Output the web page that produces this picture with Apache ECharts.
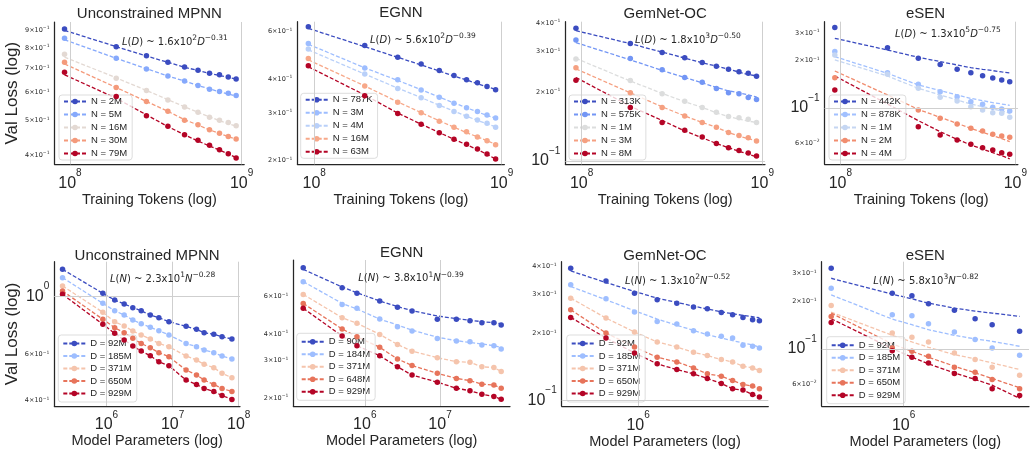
<!DOCTYPE html>
<html>
<head>
<meta charset="utf-8">
<title>Scaling laws</title>
<script src="https://cdn.jsdelivr.net/npm/echarts@6/dist/echarts.min.js"></script>
<style>html,body{margin:0;padding:0;background:#fff;}</style>
</head>
<body>
<div id="main" style="width:1030px;height:450px;"></div>
<script>
// ---- top row: val loss vs training tokens ----
var tokens = [93e6, 186e6, 279e6, 372e6, 465e6, 557e6, 650e6, 743e6, 836e6, 929e6];

var mpnnTopNames = ['N = 2M', 'N = 5M', 'N = 16M', 'N = 30M', 'N = 79M'];
var mpnnTopPts = [
  [0.906, 0.808, 0.761, 0.730, 0.708, 0.693, 0.680, 0.673, 0.663, 0.655],
  [0.853, 0.749, 0.699, 0.668, 0.646, 0.628, 0.613, 0.604, 0.597, 0.588],
  [0.769, 0.658, 0.608, 0.572, 0.546, 0.528, 0.511, 0.501, 0.494, 0.484],
  [0.730, 0.620, 0.566, 0.531, 0.501, 0.487, 0.471, 0.461, 0.451, 0.444],
  [0.684, 0.585, 0.516, 0.482, 0.456, 0.440, 0.426, 0.414, 0.403, 0.392]
];
var mpnnTopFit = [
  [0.898, 0.808, 0.760, 0.730, 0.707, 0.692, 0.679, 0.670, 0.662, 0.655],
  [0.845, 0.749, 0.700, 0.668, 0.646, 0.628, 0.614, 0.603, 0.594, 0.586],
  [0.755, 0.660, 0.608, 0.573, 0.547, 0.528, 0.512, 0.500, 0.490, 0.482],
  [0.722, 0.620, 0.566, 0.531, 0.503, 0.486, 0.471, 0.460, 0.451, 0.443],
  [0.673, 0.578, 0.519, 0.481, 0.456, 0.438, 0.424, 0.413, 0.403, 0.393]
];

var egnnTopNames = ['N = 787K', 'N = 3M', 'N = 4M', 'N = 16M', 'N = 63M'];
var egnnTopPts = [
  [0.626, 0.533, 0.482, 0.456, 0.431, 0.413, 0.398, 0.388, 0.376, 0.366],
  [0.542, 0.440, 0.398, 0.365, 0.343, 0.326, 0.314, 0.304, 0.295, 0.288],
  [0.518, 0.418, 0.370, 0.342, 0.320, 0.304, 0.292, 0.283, 0.275, 0.266],
  [0.477, 0.378, 0.329, 0.301, 0.280, 0.266, 0.256, 0.245, 0.237, 0.229],
  [0.449, 0.348, 0.299, 0.273, 0.254, 0.240, 0.230, 0.221, 0.212, 0.203]
];
var egnnTopFit = [
  [0.617, 0.528, 0.482, 0.452, 0.429, 0.411, 0.398, 0.385, 0.375, 0.367],
  [0.539, 0.441, 0.396, 0.366, 0.344, 0.327, 0.314, 0.303, 0.294, 0.287],
  [0.514, 0.418, 0.371, 0.342, 0.321, 0.305, 0.292, 0.282, 0.274, 0.267],
  [0.472, 0.378, 0.330, 0.301, 0.281, 0.266, 0.254, 0.245, 0.237, 0.230],
  [0.445, 0.350, 0.300, 0.273, 0.254, 0.240, 0.229, 0.220, 0.211, 0.203]
];

var gemTopNames = ['N = 313K', 'N = 575K', 'N = 1M', 'N = 3M', 'N = 8M'];
var gemTopPts = [
  [0.379, 0.325, 0.297, 0.282, 0.269, 0.259, 0.251, 0.245, 0.241, 0.234],
  [0.337, 0.280, 0.250, 0.231, 0.220, 0.207, 0.198, 0.196, 0.189, 0.185],
  [0.278, 0.224, 0.196, 0.182, 0.171, 0.163, 0.156, 0.154, 0.152, 0.147],
  [0.255, 0.198, 0.171, 0.157, 0.147, 0.140, 0.133, 0.129, 0.126, 0.122],
  [0.225, 0.171, 0.147, 0.136, 0.127, 0.119, 0.114, 0.111, 0.108, 0.105]
];
var gemTopFit = [
  [0.370, 0.325, 0.298, 0.281, 0.268, 0.259, 0.251, 0.244, 0.238, 0.235],
  [0.328, 0.276, 0.248, 0.231, 0.219, 0.209, 0.202, 0.198, 0.194, 0.190],
  [0.280, 0.223, 0.197, 0.181, 0.171, 0.162, 0.156, 0.152, 0.149, 0.147],
  [0.252, 0.198, 0.172, 0.157, 0.147, 0.140, 0.133, 0.128, 0.125, 0.122],
  [0.231, 0.173, 0.150, 0.135, 0.126, 0.119, 0.114, 0.110, 0.107, 0.104]
];

var esenTopNames = ['N = 442K', 'N = 878K', 'N = 1M', 'N = 2M', 'N = 4M'];
var esenTopPts = [
  [0.324, 0.2415, 0.2066, 0.189, 0.176, 0.1676, 0.1604, 0.155, 0.1506, 0.147],
  [0.228, 0.1676, 0.1413, 0.127, 0.118, 0.1097, 0.1055, 0.101, 0.0986, 0.0957],
  [0.217, 0.1636, 0.1333, 0.1168, 0.1108, 0.102, 0.0971, 0.0934, 0.0925, 0.0873],
  [0.1558, null, 0.0971, 0.086, 0.0791, 0.0743, 0.0714, 0.068, 0.0664, 0.0651],
  [0.130, null, 0.0761, 0.0674, 0.0626, 0.0588, 0.056, 0.0541, 0.052, 0.0508]
];
var esenTopFit = [
  [0.277, 0.2334, 0.2098, 0.197, 0.1875, 0.1803, 0.176, 0.1726, 0.1693, 0.1668],
  [0.2118, 0.166, 0.140, 0.1288, 0.121, 0.1151, 0.1113, 0.1081, 0.106, 0.104],
  [0.2017, 0.1597, 0.1333, 0.121, 0.1124, 0.106, 0.102, 0.0986, 0.0957, 0.0925],
  [0.1717, 0.121, 0.098, 0.0872, 0.0799, 0.0743, 0.070, 0.0667, 0.0639, 0.0611],
  [0.1597, 0.106, 0.0831, 0.0707, 0.0632, 0.0582, 0.0549, 0.052, 0.0498, 0.0475]
];

// ---- bottom row: val loss vs model parameters ----
var mpnnParams = [2.16e5, 8.8e5, 1.33e6, 1.85e6, 2.5e6, 3.35e6, 4.6e6, 6.2e6, 8.8e6, 1.6e7, 2.3e7, 3.0e7, 4.2e7, 5.6e7, 7.9e7];
var mpnnBotNames = ['D = 92M', 'D = 185M', 'D = 371M', 'D = 650M', 'D = 929M'];
var mpnnBotPts = [
  [1.267, 1.026, 0.968, 0.935, 0.905, 0.881, 0.848, 0.829, 0.800, 0.768, 0.748, 0.726, 0.716, 0.701, 0.687],
  [1.178, 0.940, 0.881, 0.848, 0.812, 0.786, 0.761, 0.739, 0.712, 0.661, 0.642, 0.624, 0.609, 0.592, 0.576],
  [1.095, 0.869, 0.800, 0.770, 0.737, 0.712, 0.687, 0.661, 0.642, 0.592, 0.571, 0.550, 0.534, 0.508, 0.489],
  [1.048, 0.817, 0.759, 0.726, 0.691, 0.661, 0.636, 0.609, 0.588, 0.523, 0.501, 0.479, 0.461, 0.445, 0.433],
  [1.017, 0.782, 0.722, 0.681, 0.646, 0.618, 0.593, 0.563, 0.543, 0.479, 0.461, 0.445, 0.433, 0.418, 0.404]
];
var mpnnBotFit = mpnnBotPts;

var egnnParams = [1.52e5, 5.0e5, 7.87e5, 1.58e6, 2.72e6, 4.25e6, 9.2e6, 1.65e7, 2.5e7, 3.6e7, 5.2e7, 6.5e7];
var egnnBotNames = ['D = 90M', 'D = 184M', 'D = 371M', 'D = 648M', 'D = 929M'];
var egnnBotPts = [
  [0.821, 0.661, 0.622, 0.573, 0.535, 0.514, 0.470, 0.470, 0.463, 0.453, 0.453, 0.442],
  [0.706, 0.552, 0.529, 0.471, 0.434, 0.414, 0.382, 0.372, 0.369, 0.356, 0.353, 0.341],
  [0.615, 0.478, 0.450, 0.399, 0.358, 0.333, 0.310, 0.297, 0.295, 0.281, 0.279, 0.267],
  [0.558, 0.423, 0.389, 0.347, 0.306, 0.285, 0.262, 0.248, 0.242, 0.233, 0.231, 0.223],
  [0.529, 0.392, 0.353, 0.317, 0.281, 0.257, 0.238, 0.223, 0.217, 0.209, 0.204, 0.198]
];
var egnnBotFit = [
  [0.806, 0.666, 0.626, 0.573, 0.539, 0.516, 0.487, 0.473, 0.465, 0.458, 0.453, 0.448],
  [0.706, 0.558, 0.525, 0.471, 0.442, 0.418, 0.387, 0.373, 0.366, 0.360, 0.353, 0.346],
  egnnBotPts[2], egnnBotPts[3], egnnBotPts[4]
];

var gemParams = [3.13e5, 5.75e5, 9.4e5, 1.39e6, 1.95e6, 2.6e6, 3.3e6, 4.2e6, 5.1e6, 6.1e6, 7.2e6, 8.1e6];
var gemBotNames = ['D = 92M', 'D = 185M', 'D = 371M', 'D = 650M', 'D = 929M'];
var gemBotPts = [
  [0.3935, 0.345, 0.304, 0.2838, 0.274, 0.263, 0.2585, 0.249, 0.243, 0.2364, 0.2307, 0.2284],
  [0.3312, 0.2867, 0.2498, 0.2268, 0.2207, 0.206, 0.199, 0.1943, 0.191, 0.177, 0.1752, 0.1722],
  [0.2886, 0.2348, 0.2032, 0.1833, 0.174, 0.1647, 0.1591, 0.1527, 0.1491, 0.1426, 0.1401, 0.1363],
  [0.2559, 0.2011, 0.174, 0.1564, 0.1491, 0.1401, 0.1317, 0.1285, 0.1229, 0.118, 0.116, 0.1128],
  [0.2364, 0.191, 0.1636, 0.1461, 0.1377, 0.1317, 0.1255, 0.1192, 0.1128, 0.1113, 0.1064, 0.1035]
];
var gemBotFit = [
  [0.3827, 0.3393, 0.3093, 0.2886, 0.276, 0.2658, 0.2576, 0.2506, 0.2455, 0.2413, 0.238, 0.2356],
  [0.3256, 0.2838, 0.2532, 0.2324, 0.2178, 0.2067, 0.1976, 0.191, 0.1858, 0.1814, 0.1777, 0.174],
  gemBotPts[2], gemBotPts[3], gemBotPts[4]
];

var esenParams = [4.36e5, 8.78e5, 1.1e6, 1.33e6, 1.79e6, 2.27e6, 2.76e6, 3.78e6];
var esenBotNames = ['D = 92M', 'D = 185M', 'D = 371M', 'D = 650M', 'D = 929M'];
var esenBotPts = [
  [0.324, 0.2254, 0.2169, 0.1931, 0.1761, 0.1553, 0.1423, 0.1292],
  [0.2424, 0.1646, 0.1622, 0.1444, 0.128, 0.1145, 0.1014, 0.0912],
  [0.1885, 0.1261, 0.1184, 0.1107, 0.0943, 0.0856, 0.0766, 0.0682],
  [0.1606, 0.1014, 0.0966, 0.0898, 0.0766, 0.0712, 0.064, 0.0559],
  [0.1472, 0.0975, 0.0886, 0.0815, 0.0698, 0.065, 0.0559, 0.0507]
];
var esenBotFit = [
  [0.2804, 0.2222, 0.2077, 0.195, 0.1813, 0.1736, 0.1686, 0.1606],
  [0.2201, 0.1545, 0.1423, 0.1323, 0.1219, 0.1156, 0.1117, 0.1039],
  [0.1711, 0.1219, 0.1107, 0.1024, 0.092, 0.0864, 0.0815, 0.074],
  [0.1686, 0.1075, 0.0966, 0.0886, 0.0777, 0.0705, 0.065, 0.0567],
  [0.1553, 0.1004, 0.0886, 0.0804, 0.0705, 0.064, 0.0589, 0.0486]
];

// fitted power laws shown in each panel: [coefficient, power of ten, exponent]
var topLaws = [['1.6', '2', '−0.31'], ['5.6', '2', '−0.39'], ['1.8', '3', '−0.50'], ['1.3', '5', '−0.75']];
var botLaws = [['2.3', '1', '−0.28'], ['3.8', '1', '−0.39'], ['1.3', '2', '−0.52'], ['5.8', '3', '−0.82']];

var topTicksY = [[0.4, 0.5, 0.6, 0.7, 0.8, 0.9], [0.2, 0.3, 0.4, 0.6], [0.1, 0.2, 0.3, 0.4], [0.06, 0.1, 0.2, 0.3]];
var botTicksY = [[0.4, 0.6, 1], [0.2, 0.3, 0.4, 0.6], [0.1, 0.2, 0.3, 0.4], [0.06, 0.1, 0.2, 0.3]];

var FONT = '"Liberation Sans", Arial, "DejaVu Sans", sans-serif';
var MATH = '"DejaVu Sans", sans-serif';
var INK = '#262626';

var warmTop = [
  ['#3b4cc0', '#86a9fc', '#e3d9d3', '#f49a7b', '#b40426'],
  ['#3b4cc0', '#9dbdff', '#b9d0f9', '#f7a889', '#b40426'],
  ['#3b4cc0', '#7396f5', '#dcdddd', '#f5a081', '#b40426'],
  ['#3b4cc0', '#a1c0ff', '#c5d6f2', '#f18d6f', '#b40426']
];
var warmBot = ['#3b4cc0', '#9ebeff', '#f5c4ac', '#e7745b', '#b40426'];

var panels = [
  {title: 'Unconstrained MPNN', xs: tokens, names: mpnnTopNames, pts: mpnnTopPts, fit: mpnnTopFit, colors: warmTop[0],
   grid: {left: 54.5, top: 22, width: 189.7, height: 142.3}, xr: [8.13e7, 1.035e9], yr: [0.3766, 0.948],
   xt: [1e8, 1e9], yt: topTicksY[0], leg: [59, 95], note: [122, 42.5], law: topLaws[0], v: 'D', ty: 13.5},
  {title: 'EGNN', xs: tokens, names: egnnTopNames, pts: egnnTopPts, fit: egnnTopFit, colors: warmTop[1],
   grid: {left: 297.4, top: 21.7, width: 207, height: 142.6}, xr: [8.13e7, 1.035e9], yr: [0.194, 0.653],
   xt: [1e8, 1e9], yt: topTicksY[1], leg: [300.7, 93.3], note: [370, 40.3], law: topLaws[1], v: 'D', ty: 13},
  {title: 'GemNet-OC', xs: tokens, names: gemTopNames, pts: gemTopPts, fit: gemTopFit, colors: warmTop[2],
   grid: {left: 565.4, top: 21.7, width: 199.6, height: 142.6}, xr: [8.13e7, 1.035e9], yr: [0.0965, 0.405],
   xt: [1e8, 1e9], yt: topTicksY[2], leg: [569, 95], note: [635, 40], law: topLaws[2], v: 'D', ty: 13.5},
  {title: 'eSEN', xs: tokens, names: esenTopNames, pts: esenTopPts, fit: esenTopFit, colors: warmTop[3],
   grid: {left: 824.6, top: 21.7, width: 201.9, height: 142.6}, xr: [8.13e7, 1.035e9], yr: [0.0439, 0.353],
   xt: [1e8, 1e9], yt: topTicksY[3], leg: [829, 95], note: [895, 34.3], law: topLaws[3], v: 'D', ty: 13.5},
  {title: 'Unconstrained MPNN', xs: mpnnParams, names: mpnnBotNames, pts: mpnnBotPts, fit: mpnnBotFit, colors: warmBot,
   grid: {left: 54.3, top: 261.7, width: 185.7, height: 144.3}, xr: [1.622e5, 1.047e8], yr: [0.3814, 1.355],
   xt: [1e6, 1e7, 1e8], yt: botTicksY[0], leg: [58.3, 335], note: [110, 279.3], law: botLaws[0], v: 'N', ty: 255.5},
  {title: 'EGNN', xs: egnnParams, names: egnnBotNames, pts: egnnBotPts, fit: egnnBotFit, colors: warmBot,
   grid: {left: 293.3, top: 260, width: 216.7, height: 146}, xr: [1.122e5, 8.51e7], yr: [0.184, 0.892],
   xt: [1e6, 1e7], yt: botTicksY[1], leg: [296.7, 333.3], note: [358.3, 278.7], law: botLaws[1], v: 'N', ty: 252.5},
  {title: 'GemNet-OC', xs: gemParams, names: gemBotNames, pts: gemBotPts, fit: gemBotFit, colors: warmBot,
   grid: {left: 561.7, top: 261.7, width: 206.6, height: 145}, xr: [2.68e5, 9.44e6], yr: [0.0943, 0.421],
   xt: [1e6], yt: botTicksY[2], leg: [566.7, 335], note: [625, 281], law: botLaws[2], v: 'N', ty: 255.5},
  {title: 'eSEN', xs: esenParams, names: esenBotNames, pts: esenBotPts, fit: esenBotFit, colors: warmBot,
   grid: {left: 821.7, top: 261.7, width: 207.3, height: 145}, xr: [3.91e5, 4.21e6], yr: [0.0434, 0.357],
   xt: [1e6], yt: botTicksY[3], leg: [826.7, 336.7], note: [873.3, 281], law: botLaws[3], v: 'N', ty: 255.5}
];

function supText(e) { return String(e).replace('-', '−'); }
function isPow10(v) {
  var e = Math.round(Math.log10(v));
  return Math.abs(v / Math.pow(10, e) - 1) < 1e-6;
}
function logLabel(v) {
  if (isPow10(v)) return '{b|10}{s|' + supText(Math.round(Math.log10(v))) + '}';
  var e = Math.floor(Math.log10(v) + 1e-9);
  var m = Math.round(v / Math.pow(10, e));
  return '{m|' + m + '×10}{ms|' + supText(e) + '}';
}
var labelRich = {
  b: {fontSize: 16, lineHeight: 30, fontFamily: FONT, color: INK},
  s: {fontSize: 10, lineHeight: 12, verticalAlign: 'top', fontFamily: FONT, color: INK},
  m: {fontSize: 6.5, lineHeight: 9, fontFamily: MATH, color: INK},
  ms: {fontSize: 4.5, lineHeight: 5, verticalAlign: 'top', fontFamily: MATH, color: INK}
};

var grids = [], xAxes = [], yAxes = [], series = [], legends = [], titles = [];

panels.forEach(function (p, k) {
  var bottom = k >= 4;
  grids.push(p.grid);
  xAxes.push({
    type: 'log', gridIndex: k, min: p.xr[0], max: p.xr[1],
    axisLine: {show: true, onZero: false, lineStyle: {color: INK, width: 1.25}},
    axisTick: {show: false}, splitLine: {show: false},
    axisLabel: {customValues: p.xt, formatter: logLabel, rich: labelRich, margin: 4, color: INK},
    name: bottom ? 'Model Parameters (log)' : 'Training Tokens (log)',
    nameLocation: 'middle', nameGap: 26.5,
    nameTextStyle: {fontSize: 14.5, color: INK, fontFamily: FONT}
  });
  yAxes.push({
    type: 'log', gridIndex: k, min: p.yr[0], max: p.yr[1],
    axisLine: {show: true, onZero: false, lineStyle: {color: INK, width: 1.25}},
    axisTick: {show: false}, splitLine: {show: false},
    axisLabel: {customValues: p.yt, formatter: logLabel, rich: labelRich, margin: 5, color: INK},
    name: (k % 4 === 0) ? 'Val Loss (log)' : '',
    nameLocation: 'middle', nameGap: 21.5, nameRotate: 90,
    nameTextStyle: {fontSize: 17, color: INK, fontFamily: FONT}
  });

  // gridlines at the decades only
  var marks = [];
  p.xt.forEach(function (v) { marks.push({xAxis: v}); });
  p.yt.forEach(function (v) { if (isPow10(v)) marks.push({yAxis: v}); });
  series.push({
    type: 'line', xAxisIndex: k, yAxisIndex: k, data: [], silent: true, z: 1,
    markLine: {silent: true, symbol: ['none', 'none'], label: {show: false}, animation: false,
      lineStyle: {color: '#cfcfcf', type: 'solid', width: 1}, emphasis: {disabled: true}, data: marks}
  });

  var ids = [];
  p.names.forEach(function (nm, j) {
    var id = k + '|' + nm;
    var c = p.colors[j];
    ids.push(id);
    series.push({
      name: id, type: 'line', xAxisIndex: k, yAxisIndex: k,
      data: p.xs.map(function (x, i) { return [x, p.fit[j][i]]; }),
      symbol: 'circle', symbolSize: 5.5, showSymbol: false, silent: true, z: 3,
      lineStyle: {color: c, width: 1.3, type: [4, 2]}, itemStyle: {color: c},
      emphasis: {disabled: true}
    });
    series.push({
      name: id, type: 'scatter', xAxisIndex: k, yAxisIndex: k,
      data: p.xs.map(function (x, i) { return [x, p.pts[j][i]]; }).filter(function (d) { return d[1] != null; }),
      symbolSize: 5.5, silent: true, z: 4, itemStyle: {color: c, opacity: 1},
      emphasis: {disabled: true}
    });
  });
  legends.push({
    data: ids, orient: 'vertical', left: p.leg[0], top: p.leg[1], selectedMode: false,
    itemWidth: 22, itemHeight: 7, itemGap: bottom ? 1.5 : 2,
    padding: bottom ? [3, 5, 3, 4] : [1, 5, 1, 4],
    backgroundColor: 'rgba(255,255,255,0.8)', borderColor: '#d4d4d4', borderWidth: 0.8, borderRadius: 3,
    textStyle: {fontSize: 9.5, lineHeight: 11, color: INK, fontFamily: FONT},
    formatter: function (name) { return name.split('|')[1]; }
  });

  titles.push({
    text: p.title, left: p.grid.left + p.grid.width / 2, top: p.ty - 9, textAlign: 'center', padding: 0,
    textStyle: {fontSize: 15, fontWeight: 'normal', color: INK, fontFamily: FONT, lineHeight: 18}
  });
  titles.push({
    text: '{i|L}({i|' + p.v + '}) ~ ' + p.law[0] + 'x10{s|' + p.law[1] + '}{i|' + p.v + '}{s|' + p.law[2] + '}',
    left: p.note[0], top: p.note[1] - 8, padding: 0,
    textStyle: {fontSize: 10, fontWeight: 'normal', color: INK, fontFamily: MATH, lineHeight: 16,
      rich: {
        i: {fontSize: 10, fontStyle: 'italic', fontFamily: MATH, color: INK, lineHeight: 16},
        s: {fontSize: 7.5, verticalAlign: 'top', fontFamily: MATH, color: INK, lineHeight: 9}
      }}
  });
});

var chart = echarts.init(document.getElementById('main'));
chart.setOption({
  animation: false,
  backgroundColor: '#ffffff',
  title: titles,
  grid: grids,
  xAxis: xAxes,
  yAxis: yAxes,
  legend: legends,
  series: series
});
</script>
</body>
</html>
